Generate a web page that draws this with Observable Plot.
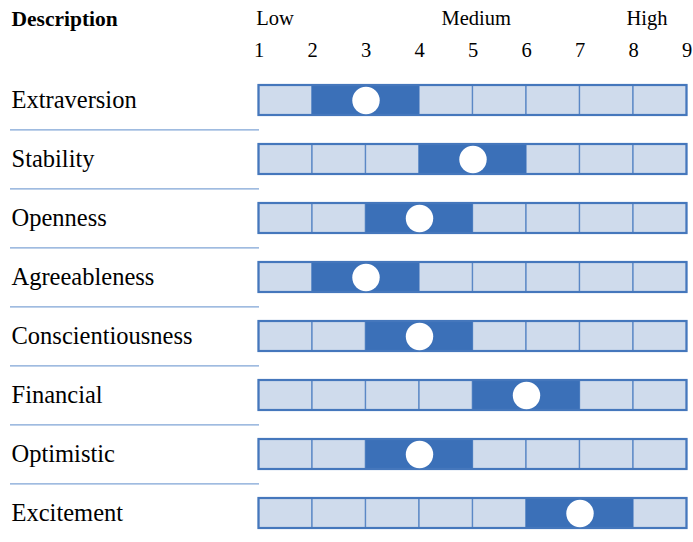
<!DOCTYPE html>
<html>
<head>
<meta charset="utf-8">
<script src="https://cdn.jsdelivr.net/npm/d3@7"></script>
<script src="https://cdn.jsdelivr.net/npm/@observablehq/plot@0.6"></script>
<style>
  html, body { margin: 0; padding: 0; background: #ffffff; }
</style>
</head>
<body>
<div id="chart"></div>
<script>
const categories = ["Extraversion", "Stability", "Openness", "Agreeableness", "Conscientiousness", "Financial", "Optimistic", "Excitement"];
const values = [3, 5, 4, 3, 4, 6, 4, 7];
const ticks = [1, 2, 3, 4, 5, 6, 7, 8, 9];
const levelLabels = ["Low", "Medium", "High"];
const levelPositions = [1.3, 5.06, 8.25];
const headerTitle = "Description";

const dark = "#3b70b8";
const light = "#cfdbec";
const cellStroke = "#5b88c6";
const border = "#4577bc";
const sepColor = "#7fa4d6";

const rows = categories.map((c, i) => ({category: c, value: values[i]}));
const cells = categories.flatMap(c => ticks.slice(0, -1).map((k, j) => ({category: c, x1: k, x2: ticks[j + 1]})));
const levels = levelLabels.map((l, i) => ({label: l, pos: levelPositions[i]}));

const chart = Plot.plot({
  width: 693,
  height: 542,
  marginTop: 0,
  marginBottom: 0,
  marginRight: 434,
  marginLeft: 10,
  style: {fontFamily: "'Liberation Serif', 'Times New Roman', serif", background: "#ffffff", color: "#000", overflow: "visible"},
  x: {domain: [ticks[0], ticks[ticks.length - 1]], range: [258.5, 686.5], axis: null},
  y: {type: "band", domain: categories, range: [83.5, 528.8], paddingInner: 0.4944, paddingOuter: 0, axis: null},
  marks: [
    Plot.ruleY(categories.slice(0, -1), {y: d => d, stroke: sepColor, strokeWidth: 1.2, dy: 29.4}),
    Plot.barX(cells, {x1: "x1", x2: "x2", y: "category", fill: light, stroke: cellStroke, strokeWidth: 1.3}),
    Plot.barX(rows, {x1: d => d.value - 1, x2: d => d.value + 1, y: "category", fill: dark}),
    Plot.barX(rows, {x1: ticks[0], x2: ticks[ticks.length - 1], y: "category", fill: "none", stroke: border, strokeWidth: 2.2}),
    Plot.dot(rows, {x: "value", y: "category", r: 13.7, fill: "white", stroke: null}),
    Plot.text(categories, {y: d => d, text: d => d, frameAnchor: "left", textAnchor: "start", dx: 1, fontSize: 24.5, fill: "#000"}),
    Plot.text([headerTitle], {text: d => d, frameAnchor: "top-left", lineAnchor: "middle", textAnchor: "start", dx: 1, dy: 18.3, fontSize: 21.5, fontWeight: "bold", fill: "#000"}),
    Plot.text(levels, {x: "pos", text: "label", frameAnchor: "top", lineAnchor: "middle", textAnchor: "middle", dy: 18.4, fontSize: 20.5, fill: "#000"}),
    Plot.text(ticks, {x: d => d, text: d => String(d), frameAnchor: "top", lineAnchor: "middle", textAnchor: "middle", dy: 50.1, fontSize: 20.5, fill: "#000"})
  ]
});
document.getElementById("chart").appendChild(chart);
</script>
</body>
</html>
